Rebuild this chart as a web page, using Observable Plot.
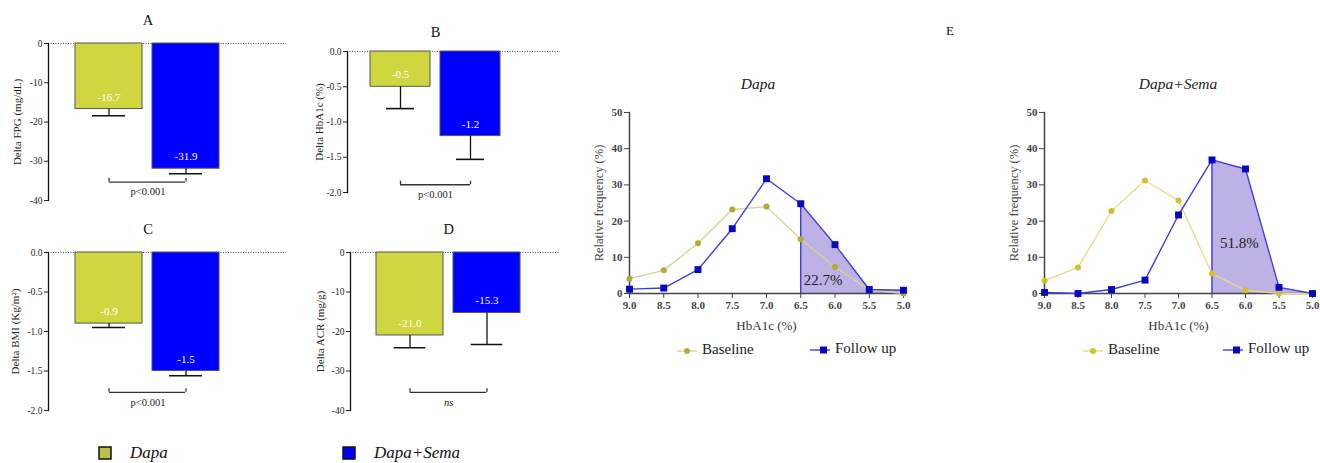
<!DOCTYPE html>
<html><head><meta charset="utf-8">
<script src="https://cdn.jsdelivr.net/npm/d3@7"></script>
<script src="https://cdn.jsdelivr.net/npm/@observablehq/plot@0.6"></script>
<style>
body{margin:0;background:#fff;overflow:hidden}
#fig{position:relative;width:1320px;height:463px;font-family:"Liberation Serif","Times New Roman",Tinos,"DejaVu Serif","Noto Serif",Times,serif;color:#111;background:#fff}
.abs{position:absolute}
.lbl{position:absolute;transform:translate(-50%,-50%);white-space:nowrap;line-height:1}
</style></head><body><div id="fig"></div>
<script>
// ---------- data ----------
const groups = ["Dapa", "Dapa+Sema"];
const fpgMean = [-16.7, -31.9];
const fpgErr = [-18.4, -33.2];
const hba1cMean = [-0.5, -1.2];
const hba1cErr = [-0.81, -1.53];
const bmiMean = [-0.9, -1.5];
const bmiErr = [-0.95, -1.56];
const acrMean = [-21.0, -15.3];
const acrErr = [-24.1, -23.3];
const pLabels = ["p<0.001", "p<0.001", "p<0.001", "ns"];
const panelTitles = ["A", "B", "C", "D"];
const ticks40 = [0, -10, -20, -30, -40];
const ticks2 = [0, -0.5, -1.0, -1.5, -2.0];

const hba1cBins = [9.0, 8.5, 8.0, 7.5, 7.0, 6.5, 6.0, 5.5, 5.0];
const dapaBaseline = [4.1, 6.4, 13.9, 23.2, 24.0, 15.0, 7.3, 1.0, 0.0];
const dapaFollow = [1.2, 1.5, 6.6, 17.9, 31.7, 24.8, 13.5, 1.1, 0.9];
const semaBaseline = [3.5, 7.2, 22.8, 31.2, 25.7, 5.5, 0.9, 0.0, 0.0];
const semaFollow = [0.3, 0.0, 1.1, 3.7, 21.7, 36.9, 34.4, 1.7, 0.0];
const shareAtTarget = [22.7, 51.8];
const cutoff = 6.5;
const freqTicks = [0, 10, 20, 30, 40, 50];

const barColors = ["#cfd63f", "#0000ff"];
const SERIF = '"Liberation Serif","Times New Roman",Tinos,"DejaVu Serif","Noto Serif",Times,serif';
const fig = document.getElementById("fig");

function place(node, left, top) {
  node.style.position = "absolute";
  node.style.left = left + "px";
  node.style.top = top + "px";
  fig.appendChild(node);
}
function label(text, x, y, size, extra = {}) {
  const d = document.createElement("div");
  d.className = "lbl";
  d.textContent = text;
  d.style.left = x + "px";
  d.style.top = y + "px";
  d.style.fontSize = size + "px";
  Object.assign(d.style, extra);
  fig.appendChild(d);
}

// ---------- bar panels A-D ----------
function barPanel(cfg) {
  const data = groups.map((g, i) => ({g, v: cfg.mean[i], e: cfg.err[i], lab: cfg.mean[i].toFixed(1)}));
  const [r0, r1] = cfg.xRange;
  const step = (r1 - r0) / (groups.length - cfg.pad);
  const bw = step * (1 - cfg.pad);
  const capInset = (bw - cfg.cap) / 2;
  const pair = [{a: groups[0], b: groups[1], y: cfg.bracket, t: cfg.p, title: cfg.title}];
  const chart = Plot.plot({
    width: cfg.w, height: cfg.h,
    marginLeft: cfg.ml, marginTop: cfg.mt, marginBottom: cfg.mb, marginRight: 0,
    style: {fontFamily: SERIF, fontSize: "9.5px", color: "#222", background: "transparent", overflow: "visible"},
    x: {type: "band", domain: groups, range: cfg.xRange, paddingInner: cfg.pad, paddingOuter: 0, axis: null},
    y: {domain: cfg.domain, ticks: cfg.ticks, tickFormat: cfg.fmt, tickSize: 4, tickPadding: 2, label: null},
    color: {domain: groups, range: barColors},
    marks: [
      Plot.ruleY([0], {stroke: "#555", strokeDasharray: "1,1.5", strokeWidth: 1}),
      Plot.barY(data, {x: "g", y: "v", fill: "g", stroke: "#555", strokeWidth: 1}),
      Plot.ruleX(data, {x: "g", y1: "v", y2: "e", stroke: "#111", strokeWidth: 1.3}),
      Plot.tickY(data, {x: "g", y: "e", stroke: "#111", strokeWidth: 1.6, insetLeft: capInset, insetRight: capInset}),
      Plot.text(data, {x: "g", y: "v", text: "lab", fill: "white", dy: -12, fontSize: 11}),
      Plot.frame({anchor: "left", stroke: "#111", strokeWidth: 1.3}),
      Plot.ruleY(pair, {y: "y", x1: "a", x2: "b", insetLeft: bw / 2, insetRight: bw / 2, stroke: "#333", strokeWidth: 1.3}),
      Plot.ruleX(data, {x: "g", y1: cfg.bracket, y2: cfg.bracketTop, stroke: "#333", strokeWidth: 1.3}),
      Plot.text(pair, {x: "a", y: "y", text: "t", dx: step / 2, dy: 10, fontSize: 10.5, fill: "#222", fontStyle: cfg.pItalic ? "italic" : "normal"}),
      Plot.text(pair, {x: "a", y: () => 0, text: "title", dx: step / 2, dy: cfg.titleDy, fontSize: 14.5, fill: "#111"}),
      Plot.text([cfg.ylabel], {frameAnchor: "left", textAnchor: "middle", lineAnchor: "middle", dx: cfg.ylx, rotate: -90, fontSize: 11, fill: "#222"})
    ]
  });
  place(chart, cfg.left, cfg.top);
}

barPanel({left: 0, top: 0, w: 286, h: 210, ml: 48, mt: 43, mb: 10, xRange: [74, 220], pad: 0.128, cap: 34,
  mean: fpgMean, err: fpgErr, domain: [-40, 0], ticks: ticks40, fmt: d => String(d),
  bracket: -35.3, bracketTop: -34.4, p: pLabels[0], title: panelTitles[0], titleDy: -23, ylabel: "Delta FPG (mg/dL)", ylx: -31});
barPanel({left: 300, top: 0, w: 260, h: 210, ml: 47, mt: 51, mb: 18, xRange: [70, 200], pad: 0.143, cap: 28,
  mean: hba1cMean, err: hba1cErr, domain: [-2, 0], ticks: ticks2, fmt: d => d.toFixed(1),
  bracket: -1.89, bracketTop: -1.84, p: pLabels[1], title: panelTitles[1], titleDy: -19, ylabel: "Delta HbA1c (%)", ylx: -28});
barPanel({left: 0, top: 210, w: 286, h: 210, ml: 48, mt: 42, mb: 10, xRange: [74, 220], pad: 0.128, cap: 34,
  mean: bmiMean, err: bmiErr, domain: [-2, 0], ticks: ticks2, fmt: d => d.toFixed(1),
  bracket: -1.77, bracketTop: -1.725, p: pLabels[2], title: panelTitles[2], titleDy: -23, ylabel: "Delta BMI (Kg/m²)", ylx: -33});
barPanel({left: 300, top: 210, w: 260, h: 210, ml: 50, mt: 42, mb: 10, xRange: [76, 221], pad: 0.129, cap: 32,
  mean: acrMean, err: acrErr, domain: [-40, 0], ticks: ticks40, fmt: d => String(d),
  bracket: -35.4, bracketTop: -34.5, p: pLabels[3], pItalic: true, title: panelTitles[3], titleDy: -23, ylabel: "Delta ACR (mg/g)", ylx: -30});

// ---------- frequency panels E ----------
function freqPanel(cfg) {
  const base = hba1cBins.map((x, i) => ({x, y: cfg.base[i]}));
  const fu = hba1cBins.map((x, i) => ({x, y: cfg.fu[i]}));
  const shaded = fu.filter(d => d.x <= cutoff);
  const chart = Plot.plot({
    width: cfg.w, height: cfg.h,
    marginLeft: cfg.ml, marginTop: cfg.mt, marginBottom: cfg.mb, marginRight: cfg.mr,
    style: {fontFamily: SERIF, fontSize: "11px", fontWeight: "bold", color: "#444", background: "transparent", overflow: "visible"},
    x: {domain: [9, 5], ticks: hba1cBins, tickFormat: d => d.toFixed(1), tickSize: 5, tickPadding: 3, label: null},
    y: {domain: [0, 50], ticks: freqTicks, tickSize: 5, tickPadding: 2, label: null},
    marks: [
      Plot.areaY(shaded, {x: "x", y: "y", fill: "#bdb1e6"}),
      Plot.ruleX(shaded.filter(d => d.x === cutoff), {x: "x", y1: 0, y2: "y", stroke: "#3434d4", strokeWidth: 1.3}),
      Plot.frame({anchor: "left", stroke: "#444", strokeWidth: 1.5}),
      Plot.frame({anchor: "bottom", stroke: "#444", strokeWidth: 1.5}),
      Plot.line(base, {x: "x", y: "y", stroke: cfg.baseLine, strokeWidth: 1.3}),
      Plot.dot(base, {x: "x", y: "y", r: 3, fill: cfg.baseDot, stroke: "none"}),
      Plot.line(fu, {x: "x", y: "y", stroke: "#4040d6", strokeWidth: 1.4}),
      Plot.dot(fu, {x: "x", y: "y", symbol: "square", r: 3.9, fill: "#0606c4", stroke: "none"}),
      Plot.text([{x: cutoff, y: cfg.labY, t: cfg.share.toFixed(1) + "%"}], {x: "x", y: "y", text: "t", textAnchor: "start", dx: cfg.labDx, fontSize: 15, fontWeight: "normal", fill: "#222"}),
      Plot.text(["Relative frequency (%)"], {frameAnchor: "left", textAnchor: "middle", lineAnchor: "middle", dx: -31, rotate: -90, fontSize: 12.5, fontWeight: "normal", fill: "#444"}),
      Plot.text(["HbA1c (%)"], {frameAnchor: "bottom", lineAnchor: "middle", dy: 32, fontSize: 13, fontWeight: "normal", fill: "#333"})
    ]
  });
  place(chart, cfg.left, cfg.top);
}

freqPanel({left: 580, top: 95, w: 340, h: 240, ml: 49, mt: 17, mb: 42, mr: 17,
  base: dapaBaseline, fu: dapaFollow, baseLine: "#d9d392", baseDot: "#b3aa36", share: shareAtTarget[0], labY: 3.6, labDx: 3});
freqPanel({left: 995, top: 95, w: 325, h: 240, ml: 49, mt: 17, mb: 42, mr: 8,
  base: semaBaseline, fu: semaFollow, baseLine: "#ead985", baseDot: "#d3c02c", share: shareAtTarget[1], labY: 14, labDx: 8});

// ---------- titles ----------
label("E", 950, 30, 13);
label(groups[0], 758, 84, 15.5, {fontStyle: "italic", color: "#222"});
label(groups[1], 1178, 84, 15.5, {fontStyle: "italic", color: "#222"});

// ---------- E legends ----------
function seriesLegend(x, y, kind, color, lineColor, text) {
  const svg = d3.create("svg").attr("width", 24).attr("height", 12).style("overflow", "visible");
  svg.append("line").attr("x1", 0).attr("x2", 20).attr("y1", 6).attr("y2", 6).attr("stroke", lineColor).attr("stroke-width", 1.4);
  if (kind === "circle") svg.append("circle").attr("cx", 10).attr("cy", 6).attr("r", 3).attr("fill", color);
  else svg.append("rect").attr("x", 10).attr("y", 2.5).attr("width", 7).attr("height", 7).attr("fill", color);
  place(svg.node(), x, y - 6);
  const t = document.createElement("div");
  t.className = "abs";
  t.textContent = text;
  t.style.left = (x + 25) + "px";
  t.style.top = (y - 9) + "px";
  t.style.fontSize = "15px";
  t.style.lineHeight = "1";
  t.style.color = "#222";
  fig.appendChild(t);
}
seriesLegend(677, 351, "circle", "#b3aa36", "#d9d392", "Baseline");
seriesLegend(810, 350, "square", "#0606c4", "#4040d6", "Follow up");
seriesLegend(1083, 351, "circle", "#d3c02c", "#ead985", "Baseline");
seriesLegend(1223, 350, "square", "#0606c4", "#4040d6", "Follow up");

// ---------- bottom legend ----------
function swatch(x, y, color, text) {
  const svg = d3.create("svg").attr("width", 14).attr("height", 14);
  svg.append("rect").attr("x", 1).attr("y", 1).attr("width", 12).attr("height", 12)
    .attr("fill", color).attr("stroke", "#111").attr("stroke-width", 1.5);
  place(svg.node(), x, y);
  const t = document.createElement("div");
  t.className = "abs";
  t.textContent = text;
  t.style.left = (x + 32) + "px";
  t.style.top = (y - 2) + "px";
  t.style.fontSize = "17px";
  t.style.fontStyle = "italic";
  t.style.lineHeight = "1";
  fig.appendChild(t);
}
swatch(98, 446, "#bcc049", groups[0]);
swatch(342, 446, barColors[1], groups[1]);
</script></body></html>
